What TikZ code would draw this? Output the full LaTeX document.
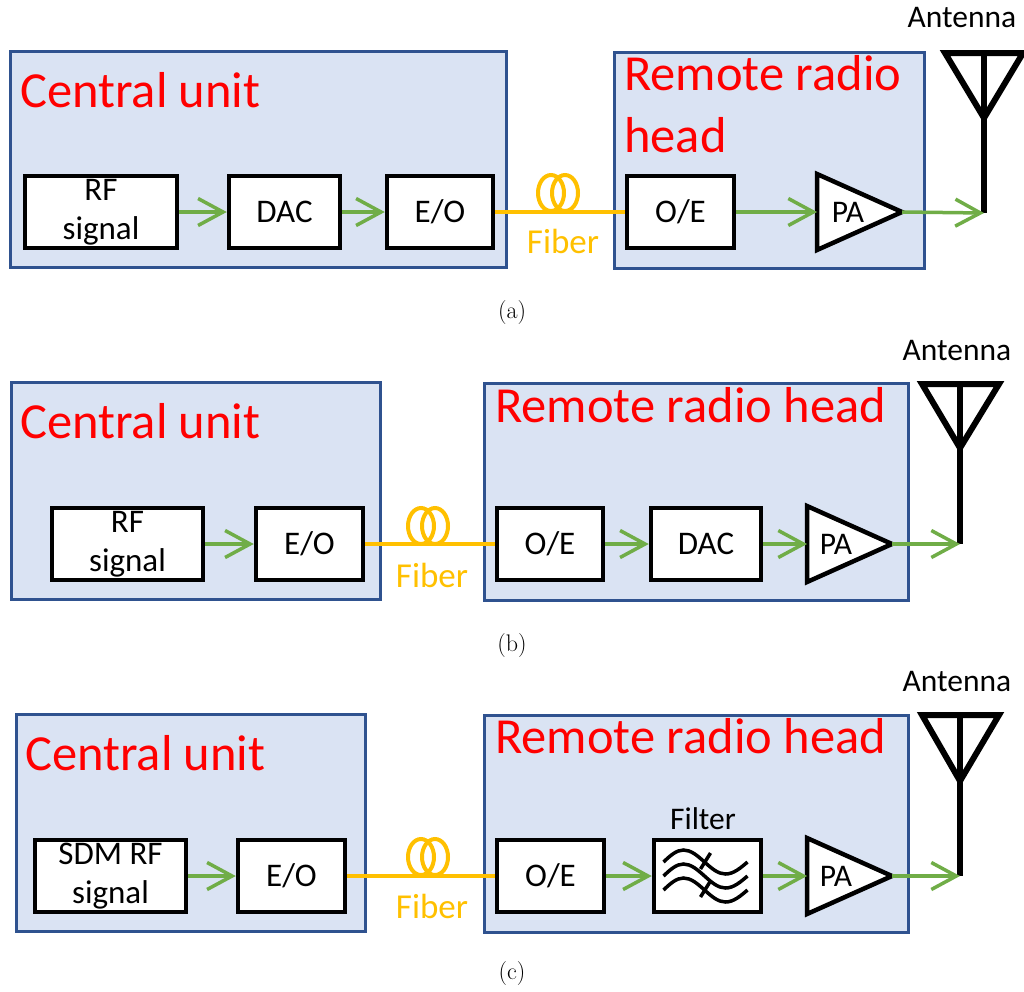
\documentclass[tikz,border=0pt]{standalone}
\usepackage{fontspec}
\newfontfamily\calibri{Carlito}
\usepackage{tikz}
\usetikzlibrary{arrows.meta}
\definecolor{boxfill}{RGB}{218,227,243}
\definecolor{boxline}{RGB}{47,82,143}
\definecolor{siggreen}{RGB}{112,173,71}
\definecolor{fibercol}{RGB}{255,192,0}

\begin{document}
\begin{tikzpicture}[x=1pt,y=-1pt,
	unit/.style={draw=boxline,fill=boxfill,line width=3.5pt},
	title/.style={text=red,inner sep=0,font=\calibri\fontsize{50.5}{62}\selectfont},
	blk/.style={draw,fill=white,line width=4.5pt,minimum height=72pt,inner sep=0,align=center,font=\calibri\fontsize{33}{39}\selectfont},
	amp/.style={draw,fill=white,line width=4.5pt},
	ant/.style={draw,line width=6pt},
	lbl/.style={inner sep=0,font=\calibri\fontsize{31.5}{36}\selectfont},
	fib/.style={draw=fibercol,line width=4pt},
	fibtxt/.style={text=fibercol,inner sep=0,font=\calibri\fontsize{35}{40}\selectfont},
	sig/.style={draw=siggreen,line width=3.5pt,-{Straight Barb[length=25pt,width=27pt]}},
	subcap/.style={font=\fontsize{24}{28}\selectfont}]
	\useasboundingbox (0,0) rectangle (1024,991);
	%(a) Units
	\node[unit,minimum width=496pt,minimum height=216pt] (cu_a) at (258.5,159.5) {};
	\node[unit,minimum width=310pt,minimum height=216pt] (rrh_a) at (769.5,160.5) {};
	\node[title,anchor=base west] (cut_a) at (20,107) {Central unit};
	\node[title,anchor=base west,align=left] (rrht_a) at (624,152) {Remote radio\\head};
	%(a) Blocks
	\node[blk,minimum width=152pt] (rf_a) at (101,212) {RF\\signal};
	\node[blk,minimum width=111pt] (dac_a) at (284.5,212) {DAC};
	\node[blk,minimum width=106pt] (eo_a) at (440,212) {E/O};
	\node[blk,minimum width=107pt] (oe_a) at (680.5,212) {O/E};
	%(a) PA
	\draw[amp] (817,174) -- (902,212) -- (817,250) -- cycle;
	\coordinate (pain_a) at (817,212);
	\coordinate (paout_a) at (902,212);
	\node[lbl] (pa_a) at (848,212) {PA};
	%(a) Antenna
	\draw[ant] (945,53) -- (1023,53) -- (984,118) -- cycle;
	\draw[ant] (984,53) -- (984,213);
	\coordinate (ant_a) at (984,213);
	\node[lbl,anchor=base] (antt_a) at (962,27) {Antenna};
	%(a) Fiber
	\draw[fib] (eo_a) -- (oe_a);
	\draw[fib] (551,193) ellipse [x radius=13pt,y radius=18pt];
	\draw[fib] (565,193) ellipse [x radius=13pt,y radius=18pt];
	\node[fibtxt,anchor=base] (fibt_a) at (563,253) {Fiber};
	%(a) Signal
	\draw[sig] (rf_a) -- (dac_a);
	\draw[sig] (dac_a) -- (eo_a);
	\draw[sig] (oe_a) -- (pain_a);
	\draw[sig] (paout_a) -- (ant_a);
	\node[subcap] (cap_a) at (512,313) {(a)};

	%(b) Units
	\node[unit,minimum width=369pt,minimum height=217pt] (cu_b) at (196,491) {};
	\node[unit,minimum width=424pt,minimum height=217pt] (rrh_b) at (696.5,492) {};
	\node[title,anchor=base west] (cut_b) at (20,438) {Central unit};
	\node[title,anchor=base west] (rrht_b) at (495,422) {Remote radio head};
	%(b) Blocks
	\node[blk,minimum width=151pt] (rf_b) at (127.5,544) {RF\\signal};
	\node[blk,minimum width=107pt] (eo_b) at (309.5,544) {E/O};
	\node[blk,minimum width=106pt] (oe_b) at (550,544) {O/E};
	\node[blk,minimum width=110pt] (dac_b) at (706,544) {DAC};
	%(b) PA
	\draw[amp] (807,506) -- (892,544) -- (807,582) -- cycle;
	\coordinate (pain_b) at (807,544);
	\coordinate (paout_b) at (892,544);
	\node[lbl] (pa_b) at (836,544) {PA};
	%(b) Antenna
	\draw[ant] (922,384) -- (999,384) -- (960,448) -- cycle;
	\draw[ant] (960,384) -- (960,544);
	\coordinate (ant_b) at (960,544);
	\node[lbl,anchor=base] (antt_b) at (957,360) {Antenna};
	%(b) Fiber
	\draw[fib] (eo_b) -- (oe_b);
	\draw[fib] (421,526) ellipse [x radius=13pt,y radius=18pt];
	\draw[fib] (435,526) ellipse [x radius=13pt,y radius=18pt];
	\node[fibtxt,anchor=base] (fibt_b) at (432,587) {Fiber};
	%(b) Signal
	\draw[sig] (rf_b) -- (eo_b);
	\draw[sig] (oe_b) -- (dac_b);
	\draw[sig] (dac_b) -- (pain_b);
	\draw[sig] (paout_b) -- (ant_b);
	\node[subcap] (cap_b) at (512,645) {(b)};

	%(c) Units
	\node[unit,minimum width=349pt,minimum height=217pt] (cu_c) at (191,823) {};
	\node[unit,minimum width=424pt,minimum height=217pt] (rrh_c) at (696.5,824) {};
	\node[title,anchor=base west] (cut_c) at (25,770) {Central unit};
	\node[title,anchor=base west] (rrht_c) at (495,753) {Remote radio head};
	%(c) Blocks
	\node[blk,minimum width=151pt] (sdm_c) at (110.5,876) {SDM RF\\signal};
	\node[blk,minimum width=107pt] (eo_c) at (291.5,876) {E/O};
	\node[blk,minimum width=107pt] (oe_c) at (550.5,876) {O/E};
	\node[blk,minimum width=107pt] (flt_c) at (707.5,876) {};
	\node[lbl,anchor=base] (fltt_c) at (703,829) {Filter};
	%(c) Filter waves
	\begin{scope}[shift={(flt_c.center)},line width=3.5pt]
		\draw (-44,-14) sin (-24,-26) cos (-3,-14) sin (18,-2) cos (40,-14);
		\draw (-44,0) sin (-24,-12) cos (-3,0) sin (18,12) cos (40,0);
		\draw (-44,14) sin (-24,2) cos (-3,14) sin (18,26) cos (40,14);
		\draw (3,-23) -- (-7,-7);
		\draw (3,5) -- (-7,21);
	\end{scope}
	%(c) PA
	\draw[amp] (807,838) -- (892,876) -- (807,914) -- cycle;
	\coordinate (pain_c) at (807,876);
	\coordinate (paout_c) at (892,876);
	\node[lbl] (pa_c) at (836,876) {PA};
	%(c) Antenna
	\draw[ant] (922,715) -- (999,715) -- (960,781) -- cycle;
	\draw[ant] (960,715) -- (960,876);
	\coordinate (ant_c) at (960,876);
	\node[lbl,anchor=base] (antt_c) at (957,691) {Antenna};
	%(c) Fiber
	\draw[fib] (eo_c) -- (oe_c);
	\draw[fib] (421,857) ellipse [x radius=13pt,y radius=18pt];
	\draw[fib] (435,857) ellipse [x radius=13pt,y radius=18pt];
	\node[fibtxt,anchor=base] (fibt_c) at (432,918) {Fiber};
	%(c) Signal
	\draw[sig] (sdm_c) -- (eo_c);
	\draw[sig] (oe_c) -- (flt_c);
	\draw[sig] (flt_c) -- (pain_c);
	\draw[sig] (paout_c) -- (ant_c);
	\node[subcap] (cap_c) at (512,973) {(c)};
\end{tikzpicture}
\end{document}
